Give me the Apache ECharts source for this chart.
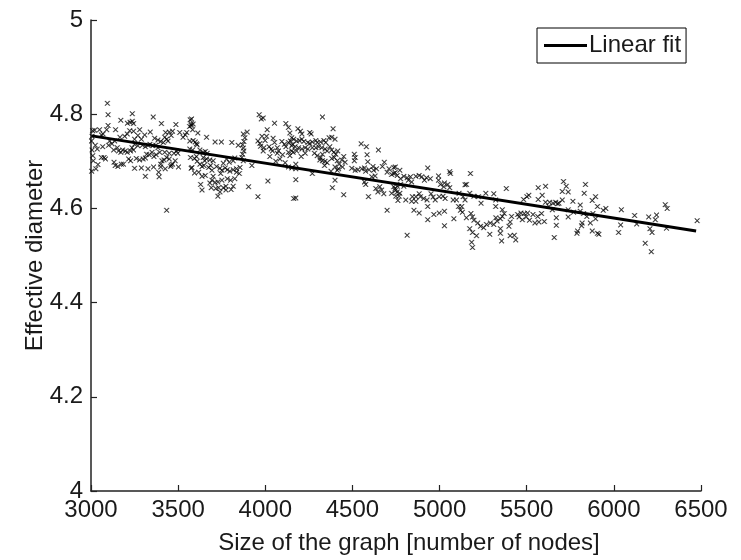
<!DOCTYPE html>
<html>
<head>
<meta charset="utf-8">
<script src="https://cdn.jsdelivr.net/npm/echarts@6/dist/echarts.min.js"></script>
<style>
html,body{margin:0;padding:0;background:#fff;}
#chart{width:741px;height:560px;}
</style>
</head>
<body>
<div id="chart"></div>
<script>
// ---- data ----
const xTicks = [3000, 3500, 4000, 4500, 5000, 5500, 6000, 6500];
const yTicks = [4, 4.2, 4.4, 4.6, 4.8, 5];
const xAxisTitle = 'Size of the graph [number of nodes]';
const yAxisTitle = 'Effective diameter';
const fitName = 'Linear fit';

// linear fit end points [nodes, diameter]
const fitLine = [[3005, 4.754], [6472, 4.552]];

// scatter measurements [nodes, diameter], grouped by x range
const pts3000 = [
[3094,4.823],[3098,4.799],[3237,4.801],[3357,4.794],[3171,4.787],[3209,4.781],[3224,4.783],[3237,4.785],[3244,4.780],
[3404,4.780],[3487,4.778],[3569,4.788],[3575,4.779],[3098,4.776],[3049,4.767],[3090,4.767],[3141,4.767],[3021,4.766],
[3222,4.765],[3244,4.764],[3279,4.767],[3340,4.762],[3208,4.758],[3193,4.753],[3069,4.758],[3060,4.756],[3010,4.765],
[3006,4.753],[3166,4.751],[3428,4.761],[3449,4.762],[3468,4.764],[3460,4.755],[3509,4.761],[3528,4.751],[3541,4.756],
[3423,4.751],[3434,4.747],[3442,4.743],[3415,4.740],[3365,4.749],[3384,4.745],[3400,4.742],[3269,4.755],[3308,4.756],
[3289,4.747],[3250,4.747],[3107,4.743],[3120,4.737],[3101,4.734],[3136,4.743],[3003,4.743],[3025,4.734],[3067,4.731],
[3006,4.724],[3036,4.726],[3010,4.712],[3013,4.701],[3060,4.708],[3075,4.708],[3083,4.705],[3130,4.724],[3151,4.729],
[3158,4.722],[3171,4.719],[3182,4.724],[3197,4.722],[3208,4.719],[3227,4.722],[3235,4.729],[3244,4.724],[3250,4.736],
[3269,4.733],[3295,4.734],[3312,4.731],[3327,4.734],[3338,4.736],[3355,4.733],[3372,4.734],[3384,4.729],[3319,4.715],
[3334,4.714],[3350,4.719],[3361,4.710],[3374,4.714],[3394,4.719],[3423,4.719],[3449,4.717],[3476,4.717],[3498,4.717],
[3491,4.722],[3260,4.706],[3279,4.703],[3299,4.705],[3312,4.707],[3216,4.705],[3227,4.701],[3132,4.698],[3139,4.691],
[3154,4.689],[3174,4.694],[3186,4.694],[3040,4.693],[3028,4.684],[3004,4.679],[3250,4.685],[3289,4.686],[3327,4.684],
[3359,4.688],[3312,4.668],[3388,4.677],[3391,4.667],[3400,4.688],[3426,4.684],[3457,4.689],[3468,4.694],[3483,4.701],
[3460,4.692],[3502,4.688],[3407,4.701],[3400,4.694],[3419,4.703],[3449,4.705],[3434,4.708],[3575,4.685],[3434,4.596],
[3566,4.774],[3549,4.761]
];
const pts3600 = [
[3965,4.799],[3977,4.790],[3988,4.792],[4053,4.781],[4118,4.780],[4133,4.772],[4141,4.760],[3577,4.790],[3586,4.779],
[3575,4.776],[3583,4.767],[3613,4.760],[3663,4.751],[3712,4.741],[3748,4.741],[3808,4.740],[3874,4.758],[3896,4.762],
[3883,4.750],[3877,4.742],[3870,4.735],[3874,4.728],[3877,4.722],[3870,4.715],[3866,4.708],[3874,4.701],[3845,4.734],
[3567,4.743],[3586,4.744],[3598,4.741],[3605,4.737],[3609,4.735],[3567,4.726],[3583,4.724],[3625,4.724],[3644,4.719],
[3656,4.721],[3667,4.717],[3571,4.708],[3594,4.706],[3605,4.710],[3609,4.700],[3644,4.708],[3652,4.701],[3663,4.705],
[3682,4.703],[3701,4.701],[3625,4.694],[3637,4.689],[3648,4.691],[3675,4.687],[3686,4.691],[3579,4.687],[3594,4.675],
[3618,4.677],[3637,4.668],[3656,4.670],[3629,4.651],[3637,4.639],[3694,4.681],[3701,4.668],[3694,4.660],[3682,4.654],
[3712,4.655],[3690,4.644],[3720,4.689],[3740,4.685],[3751,4.681],[3744,4.674],[3759,4.696],[3778,4.705],[3793,4.698],
[3816,4.701],[3825,4.707],[3770,4.686],[3782,4.682],[3797,4.679],[3816,4.682],[3835,4.684],[3855,4.687],[3835,4.677],
[3851,4.674],[3782,4.663],[3801,4.660],[3825,4.663],[3728,4.656],[3751,4.660],[3732,4.644],[3716,4.642],[3740,4.635],
[3728,4.626],[3759,4.644],[3774,4.647],[3774,4.639],[3816,4.647],[3804,4.640],[3904,4.646],[3958,4.625],[4015,4.658],
[3958,4.743],[3969,4.738],[3973,4.732],[3992,4.729],[3988,4.722],[3981,4.753],[4007,4.753],[3999,4.744],[4045,4.749],
[4053,4.740],[4011,4.767],[4022,4.731],[4034,4.726],[4026,4.710],[4041,4.722],[4069,4.729],[4076,4.722],[4069,4.717],
[4084,4.705],[4095,4.742],[4110,4.736],[4118,4.731],[4133,4.740],[4144,4.743],[4156,4.736],[4099,4.714],[4133,4.719],
[4141,4.712],[4152,4.722],[4060,4.700],[4114,4.697],[4133,4.688],[4152,4.686],[3923,4.691],[4163,4.621]
];
const pts4200 = [
[4328,4.794],[4389,4.769],[4187,4.769],[4202,4.764],[4210,4.758],[4255,4.761],[4263,4.758],[4152,4.750],[4163,4.747],
[4180,4.743],[4195,4.744],[4210,4.747],[4221,4.742],[4244,4.740],[4255,4.738],[4270,4.741],[4290,4.744],[4298,4.740],
[4317,4.741],[4336,4.744],[4347,4.740],[4366,4.750],[4381,4.751],[4400,4.747],[4152,4.733],[4171,4.731],[4191,4.729],
[4210,4.726],[4229,4.729],[4244,4.726],[4270,4.729],[4290,4.729],[4306,4.731],[4324,4.729],[4343,4.726],[4355,4.722],
[4370,4.731],[4381,4.724],[4393,4.719],[4405,4.715],[4416,4.722],[4160,4.719],[4180,4.722],[4206,4.710],[4229,4.717],
[4282,4.717],[4298,4.712],[4317,4.708],[4328,4.715],[4381,4.706],[4396,4.708],[4413,4.701],[4424,4.694],[4439,4.703],
[4450,4.710],[4458,4.698],[4313,4.703],[4328,4.701],[4343,4.700],[4355,4.697],[4340,4.691],[4400,4.688],[4413,4.681],
[4420,4.684],[4443,4.688],[4511,4.715],[4516,4.708],[4511,4.701],[4550,4.737],[4580,4.731],[4584,4.714],[4588,4.699],
[4649,4.724],[4496,4.685],[4516,4.681],[4531,4.682],[4554,4.684],[4569,4.686],[4576,4.679],[4595,4.682],[4618,4.689],
[4622,4.681],[4638,4.684],[4672,4.689],[4683,4.698],[4699,4.677],[4710,4.684],[4737,4.687],[4175,4.684],[4175,4.661],
[4270,4.674],[4377,4.679],[4400,4.660],[4385,4.644],[4175,4.622],[4450,4.629],[4569,4.656],[4576,4.651],[4592,4.625],
[4634,4.642],[4646,4.635],[4657,4.646],[4668,4.639],[4680,4.631],[4725,4.632],[4745,4.642],[4699,4.596],[4611,4.667],
[4630,4.669],[4725,4.672],[4745,4.676],[4175,4.694]
];
const pts4800 = [
[4746,4.688],[4772,4.681],[4932,4.686],[5058,4.678],[5062,4.674],[5177,4.674],[4737,4.674],[4757,4.670],[4776,4.663],
[4795,4.668],[4814,4.665],[4833,4.667],[4821,4.660],[4840,4.656],[4864,4.668],[4883,4.670],[4898,4.667],[4913,4.660],
[4925,4.665],[4947,4.663],[4994,4.669],[4994,4.660],[5005,4.651],[5028,4.654],[5047,4.651],[5024,4.646],[5058,4.644],
[4737,4.646],[4757,4.647],[4776,4.651],[4795,4.647],[4746,4.638],[4757,4.635],[4772,4.632],[4749,4.626],[4768,4.626],
[4761,4.617],[4806,4.618],[4844,4.625],[4864,4.625],[4883,4.631],[4840,4.615],[4864,4.615],[4890,4.625],[4909,4.621],
[4928,4.618],[4951,4.631],[4963,4.624],[4975,4.618],[4998,4.625],[5020,4.626],[5032,4.621],[5078,4.618],[5097,4.618],
[5112,4.632],[5135,4.625],[5146,4.618],[5173,4.632],[5197,4.626],[5223,4.625],[5238,4.611],[4853,4.596],[4883,4.590],
[4932,4.604],[4932,4.576],[4967,4.587],[4998,4.590],[5028,4.594],[5028,4.563],[5082,4.578],[5109,4.604],[5127,4.604],
[5120,4.596],[5131,4.592],[5154,4.580],[5180,4.589],[5189,4.582],[5197,4.575],[5173,4.557],[5189,4.549],[5212,4.542],
[5219,4.569],[5235,4.562],[5253,4.559],[5269,4.566],[5291,4.569],[5311,4.566],[5323,4.580],[5184,4.528],[5189,4.517],
[4814,4.543],[5265,4.632],[5311,4.631],[5288,4.545],[5146,4.650],[5154,4.651]
];
const pts5300 = [
[5383,4.642],[5566,4.644],[5608,4.647],[5711,4.657],[5727,4.647],[5704,4.636],[5738,4.635],[5837,4.651],[5830,4.632],
[5512,4.628],[5501,4.625],[5482,4.619],[5566,4.619],[5589,4.628],[5608,4.613],[5631,4.613],[5651,4.611],[5666,4.613],
[5685,4.611],[5704,4.618],[5765,4.615],[5807,4.607],[5876,4.617],[5895,4.625],[5906,4.604],[5322,4.618],[5322,4.604],
[5360,4.597],[5371,4.589],[5360,4.583],[5349,4.578],[5330,4.573],[5413,4.583],[5405,4.571],[5398,4.562],[5448,4.587],
[5467,4.590],[5486,4.589],[5505,4.590],[5456,4.582],[5475,4.576],[5497,4.582],[5516,4.575],[5536,4.587],[5547,4.569],
[5563,4.583],[5585,4.589],[5570,4.571],[5601,4.572],[5349,4.557],[5349,4.547],[5356,4.531],[5405,4.542],[5429,4.543],
[5437,4.533],[5670,4.580],[5670,4.564],[5658,4.538],[5738,4.597],[5738,4.582],[5769,4.592],[5807,4.594],[5826,4.589],
[5845,4.583],[5880,4.589],[5895,4.578],[5818,4.569],[5815,4.563],[5792,4.552],[5788,4.547],[5865,4.569],[5876,4.552],
[5906,4.547],[5914,4.545],[5627,4.604],[5647,4.597],[5677,4.610]
];
const pts5900 = [
[5939,4.596],[5954,4.600],[6043,4.597],[6039,4.565],[6027,4.549],[6119,4.585],[6131,4.567],[6200,4.582],[6207,4.557],
[6219,4.549],[6245,4.586],[6238,4.576],[6180,4.526],[6215,4.508],[6295,4.608],[6306,4.600],[6302,4.558],[6478,4.574]
];

const scatterData = [].concat(pts3000, pts3600, pts4200, pts4800, pts5300, pts5900);

const FONT = "'Liberation Sans', Arial, sans-serif";
const FS = 24;
const XMARK = 'path://M0,1L1,0L5,4L9,0L10,1L6,5L10,9L9,10L5,6L1,10L0,9L4,5Z';

const chart = echarts.init(document.getElementById('chart'), null, {renderer: 'canvas'});
chart.setOption({
  animation: false,
  backgroundColor: '#ffffff',
  textStyle: {fontFamily: FONT},
  grid: {left: 91, right: 40, top: 20, bottom: 60, containLabel: false},
  legend: {
    show: true,
    data: [{name: fitName, icon: 'rect'}],
    left: 537, top: 28,
    orient: 'horizontal',
    itemWidth: 43, itemHeight: 3,
    itemGap: 0,
    padding: [3, 5, 3, 7],
    borderColor: '#000', borderWidth: 1,
    backgroundColor: '#fff',
    selectedMode: false,
    textStyle: {fontFamily: FONT, fontSize: FS, color: '#1a1a1a', lineHeight: 29, padding: [0, 0, 0, -3]}
  },
  xAxis: {
    type: 'value',
    min: xTicks[0], max: xTicks[xTicks.length - 1], interval: 500,
    name: xAxisTitle, nameLocation: 'middle', nameGap: 40,
    nameMoveOverlap: false,
    nameTextStyle: {fontFamily: FONT, fontSize: FS, color: '#1a1a1a', padding: [0, 0, 0, 26]},
    axisLine: {show: true, onZero: false, lineStyle: {color: '#222', width: 1.5}},
    axisTick: {show: true, inside: true, length: 6, lineStyle: {color: '#222', width: 1.2}},
    axisLabel: {fontFamily: FONT, fontSize: FS, color: '#1a1a1a', margin: 7,
      formatter: function (v) { return String(v); }},
    splitLine: {show: false}
  },
  yAxis: {
    type: 'value',
    min: yTicks[0], max: yTicks[yTicks.length - 1], interval: 0.2,
    name: yAxisTitle, nameLocation: 'middle', nameGap: 44,
    nameMoveOverlap: false,
    nameTextStyle: {fontFamily: FONT, fontSize: FS, color: '#1a1a1a'},
    axisLine: {show: true, onZero: false, lineStyle: {color: '#222', width: 1.5}},
    axisTick: {show: true, inside: true, length: 6, lineStyle: {color: '#222', width: 1.2}},
    axisLabel: {fontFamily: FONT, fontSize: FS, color: '#1a1a1a', margin: 8,
      formatter: function (v) { return String(Math.round(v * 10) / 10); }},
    splitLine: {show: false}
  },
  series: [
    {
      name: 'data',
      type: 'scatter',
      data: scatterData,
      symbol: XMARK,
      symbolSize: 5,
      itemStyle: {color: '#000', borderColor: 'rgba(0,0,0,0.35)', borderWidth: 1},
      silent: true,
      z: 2
    },
    {
      name: fitName,
      type: 'line',
      data: fitLine,
      symbol: 'none',
      lineStyle: {color: '#000', width: 3},
      itemStyle: {color: '#000'},
      silent: true,
      z: 3
    }
  ]
});
</script>
</body>
</html>
